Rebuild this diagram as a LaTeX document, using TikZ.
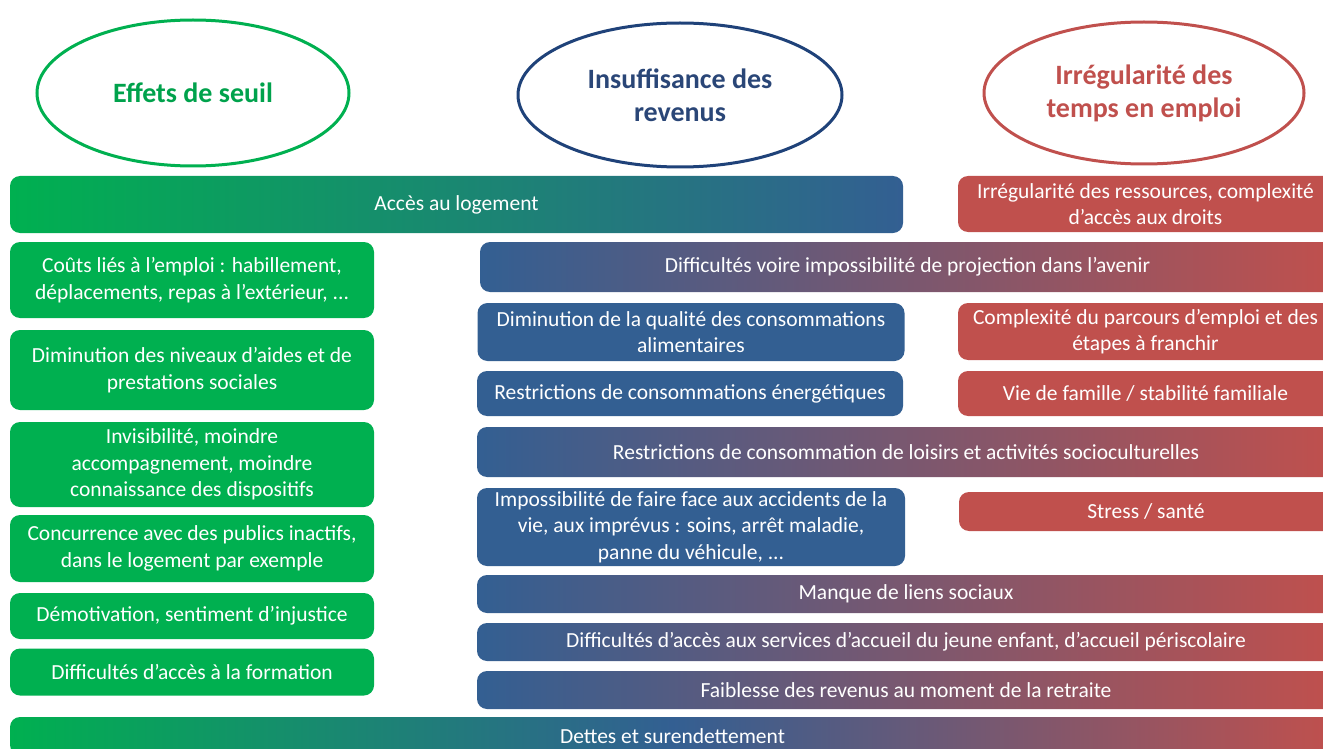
\documentclass[tikz,border=0pt]{standalone}
\usepackage{fontspec}
\setmainfont{Carlito}
\usetikzlibrary{shapes.geometric}
\definecolor{seuilgreen}{HTML}{00B050}
\definecolor{seuiltext}{HTML}{00A24C}
\definecolor{revenublue}{HTML}{335F92}
\definecolor{revenuline}{HTML}{1F4279}
\definecolor{revenutext}{HTML}{2A4677}
\definecolor{emploired}{HTML}{C0504D}
\pgfdeclarehorizontalshading{dettes}{100bp}{color(0bp)=(seuilgreen); color(25bp)=(seuilgreen); color(50bp)=(revenublue); color(75bp)=(emploired); color(100bp)=(emploired)}
\tikzset{
    title/.style={ellipse,line width=1.5pt,fill=white,font=\fontsize{14}{16.5}\selectfont\bfseries,align=center,inner sep=0pt},
    box/.style={rounded corners=5pt,text=white,font=\fontsize{10.75}{13.25}\selectfont,align=center,inner sep=0pt},
    greenbox/.style={box,fill=seuilgreen},
    bluebox/.style={box,fill=revenublue},
    redbox/.style={box,fill=emploired},
    greenblue/.style={box,left color=seuilgreen,right color=revenublue},
    bluered/.style={box,left color=revenublue,right color=emploired},
    alldebt/.style={box,shading=dettes}
}
\begin{document}
\begin{tikzpicture}[x=0.5pt,y=-0.5pt]
\path[use as bounding box,clip](0,0)rectangle(1323,749);

\node[title,draw=seuilgreen,text=seuiltext,minimum width=156pt,minimum height=73pt](seuil)at(193,93){Effets de seuil};
\node[title,draw=revenuline,text=revenutext,minimum width=162pt,minimum height=72pt](revenus)at(680,95){Insuffisance des\\revenus};
\node[title,draw=emploired,text=emploired,minimum width=160pt,minimum height=71pt](temps)at(1144,93){Irrégularité des\\temps en emploi};

\node[greenblue,minimum width=446.5pt,minimum height=28.5pt](logement)at(456.5,204.5){Accès au logement};
\node[redbox,minimum width=187.5pt,minimum height=28pt](ressources)at(1145.5,204){Irrégularité des ressources, complexité\\d’accès aux droits};

\node[greenbox,minimum width=182pt,minimum height=38pt](couts)at(192,280){Coûts liés à l’emploi : habillement,\\déplacements, repas à l’extérieur, ...};
\node[greenbox,minimum width=182pt,minimum height=40pt](aides)at(192,370){Diminution des niveaux d’aides et de\\prestations sociales};
\node[greenbox,minimum width=182pt,minimum height=42.5pt](invisible)at(192,464.5){Invisibilité, moindre\\accompagnement, moindre\\connaissance des dispositifs};
\node[greenbox,minimum width=182pt,minimum height=33.5pt](concurrence)at(192,548.5){Concurrence avec des publics inactifs,\\dans le logement par exemple};
\node[greenbox,minimum width=182pt,minimum height=23pt](demotivation)at(192,616){Démotivation, sentiment d’injustice};
\node[greenbox,minimum width=182pt,minimum height=23.5pt](formation)at(192,672){Difficultés d’accès à la formation};

\node[bluered,minimum width=427.5pt,minimum height=25pt](avenir)at(907.5,267){Difficultés voire impossibilité de projection dans l’avenir};
\node[bluebox,minimum width=213.5pt,minimum height=29pt](alimentaire)at(691,332){Diminution de la qualité des consommations\\alimentaires};
\node[redbox,minimum width=187.5pt,minimum height=28.5pt](parcours)at(1145.5,331.5){Complexité du parcours d’emploi et des\\étapes à franchir};
\node[bluebox,minimum width=213pt,minimum height=22.5pt](energie)at(690,393.5){Restrictions de consommations énergétiques};
\node[redbox,minimum width=187.5pt,minimum height=22.5pt](famille)at(1145.5,393.5){Vie de famille / stabilité familiale};
\node[bluered,minimum width=429pt,minimum height=25pt](loisirs)at(906,452){Restrictions de consommation de loisirs et activités socioculturelles};
\node[bluebox,minimum width=214pt,minimum height=39pt](imprevus)at(691,527){Impossibilité de faire face aux accidents de la\\vie, aux imprévus : soins, arrêt maladie,\\panne du véhicule, ...};
\node[redbox,minimum width=187pt,minimum height=19.5pt](stress)at(1146,511.5){Stress / santé};
\foreach \name/\y/\h/\txt in {liens/594/19pt/{Manque de liens sociaux},
    accueil/642/19pt/{Difficultés d’accès aux services d’accueil du jeune enfant, d’accueil périscolaire},
    retraite/690/19pt/{Faiblesse des revenus au moment de la retraite}}
    \node[bluered,minimum width=429pt,minimum height=\h](\name)at(906,\y){\txt};

\node[alldebt,minimum width=662.5pt,minimum height=19pt](dettes)at(672.5,736){Dettes et surendettement};
\end{tikzpicture}
\end{document}
